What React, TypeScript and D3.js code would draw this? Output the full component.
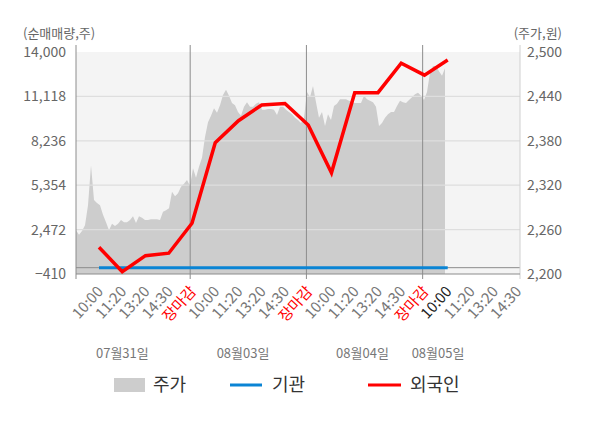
import * as d3 from "d3"

// x-axis slot labels (5 per trading day)
const slotLabels = [
  "10:00", "11:20", "13:20", "14:30", "장마감",
  "10:00", "11:20", "13:20", "14:30", "장마감",
  "10:00", "11:20", "13:20", "14:30", "장마감",
  "10:00", "11:20", "13:20", "14:30",
]
const dateLabels = ["07월31일", "08월03일", "08월04일", "08월05일"]

// net buying volume (shares), one value per slot
const foreignNet = [1330, -260, 780, 940, 2880, 8110, 9540, 10560, 10660, 9260, 6160, 11360, 11360, 13270, 12500, 13480]
const institutionNet = [0, 0, 0, 0, 0, 0, 0, 0, 0, 0, 0, 0, 0, 0, 0, 0]

const leftTicks = [-410, 2472, 5354, 8236, 11118, 14000]
const rightTicks = [2200, 2260, 2320, 2380, 2440, 2500]

// intraday price (won)
const prices = [
  2259, 2253, 2258, 2266, 2293, 2347, 2300, 2296, 2293, 2280, 2270, 2259, 2268, 2265, 2268, 2273,
  2270, 2270, 2273, 2278, 2269, 2278, 2276, 2273, 2273, 2274, 2274, 2274, 2273, 2284, 2286, 2289,
  2311, 2305, 2309, 2318, 2322, 2327, 2319, 2343, 2330, 2345, 2357, 2385, 2405, 2414, 2424, 2418,
  2428, 2442, 2449, 2441, 2431, 2428, 2419, 2414, 2426, 2432, 2426, 2426, 2430, 2432, 2422, 2422,
  2423, 2423, 2422, 2415, 2426, 2426, 2422, 2419, 2416, 2411, 2408, 2404, 2411, 2446, 2439, 2454,
  2432, 2411, 2419, 2400, 2416, 2408, 2427, 2430, 2436, 2436, 2436, 2434, 2432, 2431, 2431, 2431,
  2441, 2436, 2434, 2432, 2426, 2400, 2404, 2411, 2416, 2419, 2419, 2427, 2434, 2432, 2431, 2435,
  2439, 2443, 2445, 2441, 2435, 2446, 2472, 2481, 2481, 2474, 2468, 2478,
]

const FONT = "'Noto Sans CJK KR', 'Noto Sans', sans-serif"

export default function App() {
  const width = 600
  const height = 428
  const left = 76
  const right = 520
  const top = 52
  const bottom = 274

  const x = d3.scaleLinear().domain([0, 15]).range([99, 447.7])
  const yLeft = d3.scaleLinear().domain([-410, 14000]).range([bottom, top])
  const yRight = d3.scaleLinear().domain([2200, 2500]).range([bottom, top])
  const xPrice = d3.scaleLinear().domain([0, prices.length - 1]).range([left, 445])

  const area = d3
    .area<number>()
    .x((d, i) => xPrice(i))
    .y0(bottom)
    .y1((d) => yRight(d))

  const line = d3
    .line<number>()
    .x((d, i) => x(i))
    .y((d) => yLeft(d))

  // day separators sit just left of the close slot
  const closeSlots = slotLabels.map((l, i) => (l === "장마감" ? i : -1)).filter((i) => i >= 0)
  const dateAnchor = [-0.13, 5.06, 10.2, 13.45]

  return (
    <svg width={width} height={height} style={{ position: "absolute", left: 0, top: 0 }} fontFamily={FONT}>
      <rect x={0} y={0} width={width} height={height} fill="#fff" />
      <rect x={left} y={top} width={right - left} height={bottom - top} fill="#f4f4f4" />

      <path d={area(prices) || ""} fill="#cdcdcd" />

      {/* horizontal grid */}
      {leftTicks.slice(1, -1).map((t) => (
        <line key={t} x1={left} x2={right} y1={yLeft(t)} y2={yLeft(t)} stroke="#dedede" strokeWidth={1.2} />
      ))}
      <line x1={left} x2={right} y1={yLeft(0)} y2={yLeft(0)} stroke="#8c8c8c" strokeWidth={1} />

      {/* vertical grid */}
      {closeSlots.map((s) => (
        <line key={s} x1={x(s) - 1.8} x2={x(s) - 1.8} y1={45} y2={279} stroke="#8c8c8c" strokeWidth={1} />
      ))}

      {/* axes */}
      <line x1={left} x2={left} y1={45} y2={279} stroke="#8c8c8c" strokeWidth={1} />
      <line x1={right} x2={right} y1={45} y2={279} stroke="#d0d0d0" strokeWidth={1} />
      <line x1={left} x2={right} y1={bottom} y2={bottom} stroke="#8c8c8c" strokeWidth={1} />

      <path d={line(institutionNet) || ""} fill="none" stroke="#0a84d4" strokeWidth={3} />
      <path d={line(foreignNet) || ""} fill="none" stroke="#ff0000" strokeWidth={3.5} strokeLinejoin="miter" />

      {/* left ticks */}
      {leftTicks.map((t) => (
        <text key={t} x={66} y={yLeft(t)} dy="0.36em" textAnchor="end" fontSize={14} fill="#666">
          {d3.format(",")(t)}
        </text>
      ))}
      {/* right ticks */}
      {rightTicks.map((t) => (
        <text key={t} x={527} y={yRight(t)} dy="0.36em" textAnchor="start" fontSize={14} fill="#666">
          {d3.format(",")(t)}
        </text>
      ))}

      <text x={23} y={38} fontSize={13} fill="#666">(순매매량,주)</text>
      <text x={562} y={38} fontSize={13} fill="#666" textAnchor="end">(주가,원)</text>

      {/* x labels */}
      {slotLabels.map((l, i) => (
        <text
          key={i}
          transform={`translate(${x(i) + 5},${292}) rotate(-48)`}
          textAnchor="end"
          fontSize={15}
          fill={l === "장마감" ? "#ff0000" : i === 15 ? "#222" : "#777"}
        >
          {l}
        </text>
      ))}

      {dateLabels.map((d, i) => (
        <text key={d} x={x(dateAnchor[i])} y={358} fontSize={13} fill="#777">
          {d}
        </text>
      ))}

      {/* legend */}
      <rect x={114} y={378} width={31} height={14} fill="#cdcdcd" />
      <text x={153} y={385} dy="0.36em" fontSize={18} fill="#333">주가</text>
      <line x1={230} x2={262} y1={385} y2={385} stroke="#0a84d4" strokeWidth={3} />
      <text x={272} y={385} dy="0.36em" fontSize={18} fill="#333">기관</text>
      <line x1={368} x2={401} y1={385} y2={385} stroke="#ff0000" strokeWidth={3} />
      <text x={410} y={385} dy="0.36em" fontSize={18} fill="#333">외국인</text>
    </svg>
  )
}
